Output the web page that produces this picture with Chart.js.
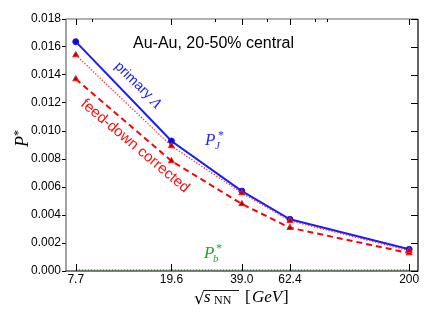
<!DOCTYPE html>
<html><head><meta charset="utf-8">
<script src="https://cdn.jsdelivr.net/npm/chart.js@4"></script>
<style>html,body{margin:0;padding:0;background:#fff}canvas{display:block}</style>
</head><body>
<canvas id="c" width="432" height="324"></canvas>
<script>
const energies = [7.7, 19.6, 39.0, 62.4, 200];
const energyLabels = ['7.7', '19.6', '39.0', '62.4', '200'];
const primaryLambda = [0.01638, 0.00929, 0.00571, 0.00369, 0.00155];
const primaryDotted = [0.01543, 0.00893, 0.00557, 0.00359, 0.00145];
const feedDownCorrected = [0.01371, 0.00786, 0.00479, 0.00309, 0.00128];
const pB = [0.00008, 0.00008, 0.00008, 0.00008, 0.00008];
const yTicks = [0, 0.002, 0.004, 0.006, 0.008, 0.010, 0.012, 0.014, 0.016, 0.018];
const topMinorTicks = [9, 30, 50, 80, 90];

const pts = arr => energies.map((e, i) => ({x: e, y: arr[i]}));

const decor = {
  id: 'decor',
  afterDatasetsDraw(chart) {
    const ctx = chart.ctx, a = chart.chartArea;
    const xs = chart.scales.x, ys = chart.scales.y;
    ctx.save();
    // frame
    ctx.lineWidth = 1.2;
    ctx.strokeStyle = '#666';
    ctx.beginPath();
    ctx.moveTo(a.left, a.bottom); ctx.lineTo(a.left, a.top); ctx.lineTo(a.right, a.top);
    ctx.stroke();
    ctx.strokeStyle = '#000';
    ctx.beginPath();
    ctx.moveTo(a.right, a.top); ctx.lineTo(a.right, a.bottom); ctx.lineTo(a.left, a.bottom);
    ctx.stroke();
    // inward ticks
    ctx.lineWidth = 1;
    ctx.strokeStyle = '#000';
    ctx.beginPath();
    energies.forEach(e => {
      const px = Math.round(xs.getPixelForValue(e)) + 0.5;
      ctx.moveTo(px, a.bottom); ctx.lineTo(px, a.bottom - 7);
      ctx.moveTo(px, a.top); ctx.lineTo(px, a.top + 6);
    });
    topMinorTicks.forEach(e => {
      const px = Math.round(xs.getPixelForValue(e)) + 0.5;
      ctx.moveTo(px, a.top); ctx.lineTo(px, a.top + 3);
    });
    yTicks.forEach(v => {
      const py = Math.round(ys.getPixelForValue(v)) + 0.5;
      ctx.moveTo(a.right, py); ctx.lineTo(a.right - 7, py);
    });
    ctx.stroke();

    // title
    ctx.fillStyle = '#000';
    ctx.font = '16px "Liberation Sans", Arial, sans-serif';
    ctx.textBaseline = 'alphabetic';
    ctx.textAlign = 'left';
    ctx.fillText('Au-Au, 20-50% central', 133, 48);

    // primary Lambda
    ctx.save();
    ctx.translate(138, 85);
    ctx.rotate(44 * Math.PI / 180);
    ctx.fillStyle = '#1a1aff';
    ctx.textBaseline = 'middle';
    ctx.font = '14px "Liberation Sans", Arial, sans-serif';
    const w1 = ctx.measureText('primary ').width;
    ctx.font = 'italic 15px "Liberation Serif", serif';
    const w2 = ctx.measureText('Λ').width;
    let sx = -(w1 + w2) / 2;
    ctx.font = '14px "Liberation Sans", Arial, sans-serif';
    ctx.fillText('primary ', sx, 0);
    ctx.font = 'italic 15px "Liberation Serif", serif';
    ctx.fillText('Λ', sx + w1, 1);
    ctx.restore();

    // feed-down corrected
    ctx.save();
    ctx.translate(135, 146);
    ctx.rotate(40 * Math.PI / 180);
    ctx.fillStyle = '#ff1010';
    ctx.textBaseline = 'middle';
    ctx.textAlign = 'center';
    ctx.font = '15px "Liberation Sans", Arial, sans-serif';
    ctx.fillText('feed-down corrected', 0, 0);
    ctx.restore();

    // P_J*
    ctx.fillStyle = '#2a2aee';
    ctx.font = 'italic 17px "Liberation Serif", serif';
    ctx.fillText('P', 205, 145);
    ctx.font = 'italic 11px "Liberation Serif", serif';
    ctx.fillText('J', 215, 149);
    ctx.font = '12px "Liberation Serif", serif';
    ctx.fillText('*', 218, 139);

    // P_b*
    ctx.fillStyle = '#2ca02c';
    ctx.font = 'italic 17px "Liberation Serif", serif';
    ctx.fillText('P', 204, 258);
    ctx.font = 'italic 11px "Liberation Serif", serif';
    ctx.fillText('b', 213, 262);
    ctx.font = '12px "Liberation Serif", serif';
    ctx.fillText('*', 216, 252);

    // y axis title P*
    ctx.save();
    ctx.translate(28, 141);
    ctx.rotate(-Math.PI / 2);
    ctx.fillStyle = '#000';
    ctx.font = 'italic 18px "Liberation Serif", serif';
    ctx.fillText('P', -6, 0);
    ctx.font = '12px "Liberation Serif", serif';
    ctx.fillText('*', 5, -6);
    ctx.restore();

    // x axis title sqrt(s_NN) [GeV]
    ctx.fillStyle = '#000';
    ctx.strokeStyle = '#000';
    const base = 302;
    ctx.font = '17px "DejaVu Serif", serif';
    ctx.fillText('√', 194, base + 2);
    const rw = ctx.measureText('√').width;
    ctx.lineWidth = 0.9;
    ctx.beginPath();
    ctx.moveTo(194 + rw - 1, 290.5); ctx.lineTo(239, 290.5);
    ctx.stroke();
    ctx.font = 'italic 17px "Liberation Serif", serif';
    ctx.fillText('s', 204, base);
    ctx.font = '12px "Liberation Serif", serif';
    ctx.fillText('NN', 214, base + 2);
    ctx.font = '17px "Liberation Serif", serif';
    ctx.fillText('[', 245, base);
    ctx.font = 'italic 17px "Liberation Serif", serif';
    ctx.fillText('GeV', 252, base);
    ctx.font = '17px "Liberation Serif", serif';
    ctx.fillText(']', 283, base);
    ctx.restore();
  }
};

new Chart(document.getElementById('c'), {
  type: 'line',
  data: {
    datasets: [
      { label: 'Pb', data: pts(pB), borderColor: '#3cb03c', borderWidth: 1.2, borderDash: [1.5, 1.5], pointRadius: 0, fill: false },
      { label: 'primary dotted', data: pts(primaryDotted), borderColor: '#ff3030', borderWidth: 1.3, borderDash: [1.3, 1.7], pointStyle: 'triangle', pointRadius: 3.5, pointBackgroundColor: '#b00000', pointBorderColor: '#ff2020', pointBorderWidth: 1, fill: false },
      { label: 'feed-down corrected', data: pts(feedDownCorrected), borderColor: '#ff0000', borderWidth: 2, borderDash: [6, 4], pointStyle: 'triangle', pointRadius: 3.5, pointBackgroundColor: '#a00000', pointBorderColor: '#ff2020', pointBorderWidth: 1, fill: false },
      { label: 'primary Lambda', data: pts(primaryLambda), borderColor: '#1a1aff', borderWidth: 2, pointStyle: 'circle', pointRadius: 3, pointBackgroundColor: '#1010b0', pointBorderColor: '#1a1aff', pointBorderWidth: 1, fill: false }
    ]
  },
  options: {
    responsive: false,
    animation: false,
    devicePixelRatio: 1,
    layout: { padding: { top: 19, right: 14, left: 0, bottom: 0 } },
    plugins: { legend: { display: false }, tooltip: { enabled: false } },
    scales: {
      x: {
        type: 'logarithmic',
        min: 7, max: 218,
        afterBuildTicks: s => { s.ticks = energies.map(v => ({ value: v })); },
        afterFit: s => { s.height = 53; },
        border: { display: false },
        grid: { display: true, drawOnChartArea: false, drawTicks: false, color: 'rgba(0,0,0,0)' },
        ticks: {
          padding: 1, color: '#000', maxRotation: 0, autoSkip: false,
          font: { family: '"Liberation Sans", Arial, sans-serif', size: 12 },
          callback: (v, i) => energyLabels[i]
        }
      },
      y: {
        min: 0, max: 0.018,
        afterBuildTicks: s => { s.ticks = yTicks.map(v => ({ value: v })); },
        afterFit: s => { s.width = 66; },
        border: { display: false },
        grid: { display: true, drawOnChartArea: false, drawTicks: true, tickLength: 4, color: '#000' },
        ticks: {
          padding: 1, color: '#000',
          font: { family: '"Liberation Sans", Arial, sans-serif', size: 12 },
          callback: v => v.toFixed(3)
        }
      }
    }
  },
  plugins: [decor]
});
</script>
</body></html>
